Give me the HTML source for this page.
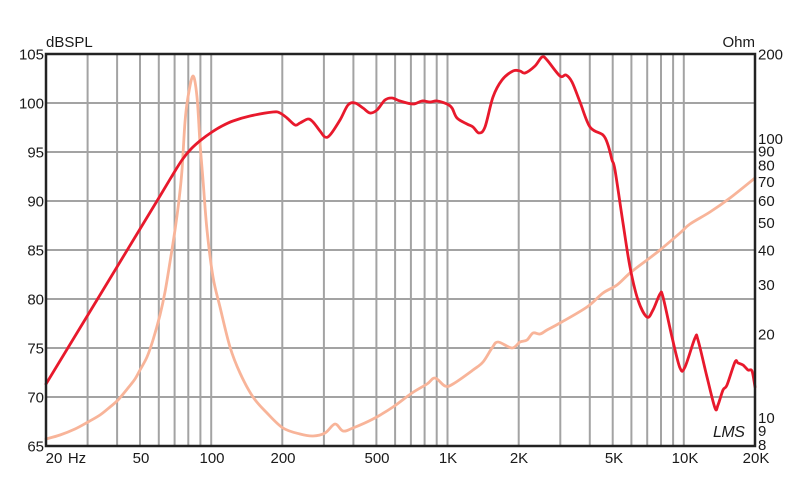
<!DOCTYPE html>
<html>
<head>
<meta charset="utf-8">
<style>
  html,body{margin:0;padding:0;background:#fff;}
  svg{display:block;}
  text{font-family:"Liberation Sans",Arial,sans-serif;fill:#1a1a1a;}
</style>
</head>
<body>
<svg id="chart" width="800" height="484" viewBox="0 0 800 484" xmlns="http://www.w3.org/2000/svg">
  <rect x="0" y="0" width="800" height="484" fill="#fff"/>
  <!-- horizontal grid -->
  <g stroke="#a3a3a3" stroke-width="2">
    <line x1="46" y1="103" x2="755" y2="103"/>
    <line x1="46" y1="152" x2="755" y2="152"/>
    <line x1="46" y1="201" x2="755" y2="201"/>
    <line x1="46" y1="250" x2="755" y2="250"/>
    <line x1="46" y1="299" x2="755" y2="299"/>
    <line x1="46" y1="348" x2="755" y2="348"/>
    <line x1="46" y1="397" x2="755" y2="397"/>
  </g>
  <!-- vertical grid -->
  <g stroke="#a3a3a3" stroke-width="2">
    <line x1="87.6" y1="54" x2="87.6" y2="446"/>
    <line x1="117.1" y1="54" x2="117.1" y2="446"/>
    <line x1="140" y1="54" x2="140" y2="446"/>
    <line x1="158.8" y1="54" x2="158.8" y2="446"/>
    <line x1="174.6" y1="54" x2="174.6" y2="446"/>
    <line x1="188.3" y1="54" x2="188.3" y2="446"/>
    <line x1="200.4" y1="54" x2="200.4" y2="446"/>
    <line x1="211.2" y1="54" x2="211.2" y2="446"/>
    <line x1="282.3" y1="54" x2="282.3" y2="446"/>
    <line x1="323.9" y1="54" x2="323.9" y2="446"/>
    <line x1="353.4" y1="54" x2="353.4" y2="446"/>
    <line x1="376.4" y1="54" x2="376.4" y2="446"/>
    <line x1="395.1" y1="54" x2="395.1" y2="446"/>
    <line x1="410.9" y1="54" x2="410.9" y2="446"/>
    <line x1="424.6" y1="54" x2="424.6" y2="446"/>
    <line x1="436.7" y1="54" x2="436.7" y2="446"/>
    <line x1="447.5" y1="54" x2="447.5" y2="446"/>
    <line x1="518.7" y1="54" x2="518.7" y2="446"/>
    <line x1="560.3" y1="54" x2="560.3" y2="446"/>
    <line x1="589.8" y1="54" x2="589.8" y2="446"/>
    <line x1="612.7" y1="54" x2="612.7" y2="446"/>
    <line x1="631.4" y1="54" x2="631.4" y2="446"/>
    <line x1="647.2" y1="54" x2="647.2" y2="446"/>
    <line x1="661" y1="54" x2="661" y2="446"/>
    <line x1="673.1" y1="54" x2="673.1" y2="446"/>
    <line x1="683.8" y1="54" x2="683.8" y2="446"/>
  </g>

  <!-- impedance curve -->
  <polyline class="smooth" fill="none" stroke="#f8b499" stroke-width="2.8" stroke-linejoin="round" stroke-linecap="round"
    points="46,439 60,435 75,429 88,422 100,415 110,407 118,400 128,388 135,379 140,370 147,357 153,340 160,315 165,292 170,262 175,230 179,200 182,170 185,122 188,97 193,76 197,97 200,143 203,180 207,230 213,277 220,307 230,347 240,373 253,397 267,413 283,428 300,434 313,436 325,433 335,424 343,431 353,428 373,419 393,407 412,393 427,384 435,378 445,386 453,384 473,370 483,362 492,348 498,342 512,348 520,342 527,340 533,333 540,334 547,330 560,323 587,307 603,293 617,285 630,273 647,260 660,250 680,233 690,224 710,212 730,198 755,178"/>

  <!-- SPL curve -->
  <polyline class="smooth" fill="none" stroke="#e8192c" stroke-width="2.8" stroke-linejoin="round" stroke-linecap="round"
    points="46,384 100,295 140,229 160,196 172,176 182,160 191,149 201,140 212,132 222,126 233,121 250,116 273,112 280,113 287,118 295,125 300,123 308,119 313,122 320,131 325,137 330,135 340,120 348,105 355,103 363,108 370,113 377,110 385,100 392,98 400,101 413,104 422,101 430,102 437,101 447,104 452,108 457,118 467,124 473,127 479,133 485,127 493,97 502,80 513,71 520,71 525,73 535,66 542,57 547,60 560,76 566,75 572,82 580,102 590,127 603,135 608,145 612,160 615,170 623,223 630,267 638,300 647,317 653,310 660,294 663,297 672,337 680,368 685,367 695,338 698,340 707,377 715,408 718,405 723,390 727,385 735,362 738,363 743,365 748,370 752,371 755,387"/>

  <!-- frame -->
  <rect x="46" y="54" width="709" height="392" fill="none" stroke="#222" stroke-width="2.5"/>

  <!-- left axis labels -->
  <g font-size="15" text-anchor="end">
    <text x="44" y="59.5">105</text>
    <text x="44" y="108.5">100</text>
    <text x="44" y="157.5">95</text>
    <text x="44" y="206.5">90</text>
    <text x="44" y="255.5">85</text>
    <text x="44" y="304.5">80</text>
    <text x="44" y="353.5">75</text>
    <text x="44" y="402.5">70</text>
    <text x="44" y="451.5">65</text>
  </g>
  <text x="46" y="47" font-size="15">dBSPL</text>
  <text x="755" y="47" font-size="15" text-anchor="end">Ohm</text>

  <!-- right axis labels -->
  <g font-size="15" text-anchor="start">
    <text x="758" y="59.5">200</text>
    <text x="758" y="144">100</text>
    <text x="758" y="156.5">90</text>
    <text x="758" y="170.5">80</text>
    <text x="758" y="187">70</text>
    <text x="758" y="206">60</text>
    <text x="758" y="228">50</text>
    <text x="758" y="255.5">40</text>
    <text x="758" y="290">30</text>
    <text x="758" y="339.5">20</text>
    <text x="758" y="423">10</text>
    <text x="758" y="436">9</text>
    <text x="758" y="450">8</text>
  </g>

  <!-- bottom labels -->
  <g font-size="15" text-anchor="middle">
    <text x="54" y="463">20</text>
    <text x="77" y="463">Hz</text>
    <text x="141" y="463">50</text>
    <text x="212" y="463">100</text>
    <text x="283" y="463">200</text>
    <text x="377" y="463">500</text>
    <text x="448" y="463">1K</text>
    <text x="519" y="463">2K</text>
    <text x="614" y="463">5K</text>
    <text x="685" y="463">10K</text>
    <text x="756" y="463">20K</text>
  </g>

  <!-- signature -->
  <text x="713" y="437" font-size="16" font-style="italic" fill="#111" letter-spacing="-0.5">LMS</text>
</svg>
<script>
(function(){
  var ns="http://www.w3.org/2000/svg";
  var pls=document.querySelectorAll("polyline.smooth");
  for(var i=0;i<pls.length;i++){
    var pl=pls[i];
    var raw=pl.getAttribute("points").trim().split(/\s+/);
    var p=raw.map(function(s){var a=s.split(",");return [parseFloat(a[0]),parseFloat(a[1])];});
    var d="M"+p[0][0]+","+p[0][1];
    for(var k=0;k<p.length-1;k++){
      var p0=p[k-1]||p[k],p1=p[k],p2=p[k+1],p3=p[k+2]||p2;
      var t=0.5/3;
      var c1x=p1[0]+(p2[0]-p0[0])*t,c1y=p1[1]+(p2[1]-p0[1])*t;
      var c2x=p2[0]-(p3[0]-p1[0])*t,c2y=p2[1]-(p3[1]-p1[1])*t;
      d+=" C"+c1x.toFixed(2)+","+c1y.toFixed(2)+" "+c2x.toFixed(2)+","+c2y.toFixed(2)+" "+p2[0]+","+p2[1];
    }
    var path=document.createElementNS(ns,"path");
    path.setAttribute("d",d);
    ["fill","stroke","stroke-width","stroke-linejoin","stroke-linecap"].forEach(function(a){path.setAttribute(a,pl.getAttribute(a));});
    pl.parentNode.replaceChild(path,pl);
  }
})();
</script>
</body>
</html>
